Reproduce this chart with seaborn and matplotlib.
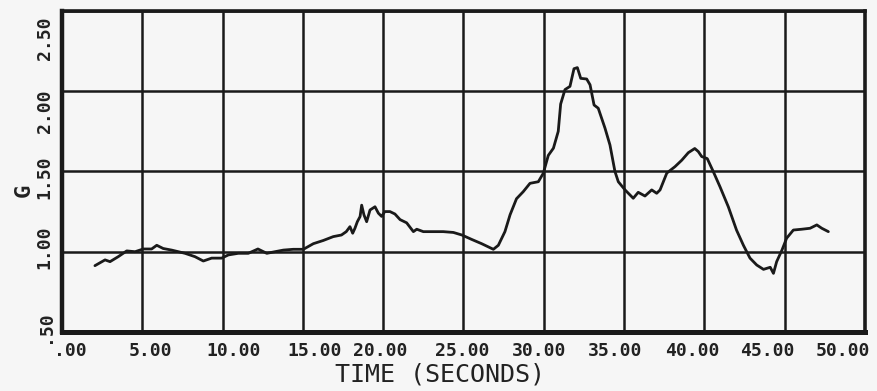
import pandas as pd
import numpy as np
import matplotlib
matplotlib.use('Agg')
import matplotlib.pyplot as plt
import matplotlib.transforms as mtransforms
import seaborn as sns

# values
time_s = [2.05, 2.68, 2.99, 3.5, 4.03, 4.55, 5.06, 5.58, 5.9, 6.3, 6.83, 7.66, 8.28, 8.8,
          9.32, 9.94, 10.36, 10.98, 11.6, 12.2, 12.75, 13.26, 13.78, 14.4, 15.03, 15.65,
          16.27, 16.89, 17.4, 17.7, 17.93, 18.1, 18.24, 18.39, 18.56, 18.66, 18.8, 18.97,
          19.18, 19.49, 19.7, 19.9, 20.1, 20.42, 20.73, 21.05, 21.46, 21.88, 22.09, 22.5,
          23.12, 23.74, 24.37, 24.9, 25.5, 26.13, 26.86, 27.17, 27.58, 27.9, 28.3, 28.72,
          29.14, 29.66, 29.97, 30.28, 30.6, 30.9, 31.05, 31.32, 31.63, 31.88, 32.09, 32.3,
          32.67, 32.88, 33.13, 33.39, 33.81, 34.12, 34.43, 34.64, 35.06, 35.57, 35.88,
          36.3, 36.72, 37.03, 37.24, 37.66, 38.17, 38.59, 39.0, 39.4, 39.62, 39.83, 40.18,
          40.55, 40.97, 41.49, 42.0, 42.43, 42.84, 43.26, 43.68, 44.1, 44.3, 44.5, 44.83,
          45.12, 45.54, 46.06, 46.58, 47.0, 47.31, 47.72]
g_load = [0.913, 0.949, 0.938, 0.969, 1.005, 1.0, 1.017, 1.017, 1.04, 1.02, 1.01, 0.99, 0.969,
          0.942, 0.96, 0.96, 0.98, 0.99, 0.99, 1.017, 0.99, 1.0, 1.01, 1.015, 1.015, 1.05,
          1.07, 1.094, 1.104, 1.125, 1.156, 1.115, 1.146, 1.187, 1.219, 1.29, 1.23, 1.187,
          1.26, 1.28, 1.24, 1.22, 1.25, 1.25, 1.235, 1.2, 1.18, 1.125, 1.14, 1.125,
          1.125, 1.125, 1.12, 1.104, 1.077, 1.05, 1.015, 1.04, 1.125, 1.23, 1.33, 1.374,
          1.426, 1.436, 1.489, 1.6, 1.645, 1.75, 1.92, 2.01, 2.03, 2.14, 2.147, 2.08,
          2.076, 2.04, 1.914, 1.894, 1.77, 1.665, 1.5, 1.436, 1.385, 1.333, 1.37,
          1.347, 1.385, 1.364, 1.385, 1.49, 1.53, 1.57, 1.617, 1.643, 1.624, 1.593, 1.58,
          1.5, 1.405, 1.28, 1.135, 1.04, 0.96, 0.917, 0.89, 0.903, 0.865, 0.938, 1.01,
          1.084, 1.135, 1.14, 1.146, 1.167, 1.146, 1.125]

x_ticks = [0, 5, 10, 15, 20, 25, 30, 35, 40, 45, 50]
x_labels = ['.00', '5.00', '10.00', '15.00', '20.00', '25.00', '30.00',
            '35.00', '40.00', '45.00', '50.00']
y_ticks = [0.5, 1.0, 1.5, 2.0, 2.5]
y_labels = ['.50', '1.00', '1.50', '2.00', '2.50']

df = pd.DataFrame({'time': time_s, 'g': g_load})

sns.set_style('white')
plt.rcParams['font.family'] = ['DejaVu Sans Mono', 'DejaVu Sans']

fig = plt.figure(figsize=(8.77, 3.91), dpi=100, facecolor='#f6f6f6')
ax = fig.add_axes([0.0707, 0.151, 0.9156, 0.821])
ax.set_facecolor('#f6f6f6')

sns.lineplot(data=df, x='time', y='g', ax=ax, color='#1a1a1a', linewidth=2.0)

ax.set_xlim(0, 50)
ax.set_ylim(0.5, 2.5)
ax.set_xticks(x_ticks)
ax.set_xticklabels(x_labels, fontsize=13, fontweight='bold', color='#222222')
ax.set_yticks(y_ticks)
ax.set_yticklabels(y_labels, fontsize=13, fontweight='bold', color='#222222',
                   rotation=90, va='center')
ax.tick_params(axis='x', length=0, pad=7)
ax.tick_params(axis='y', length=0, pad=6)
ax.grid(True, color='#1a1a1a', linewidth=1.8)
for side in ax.spines.values():
    side.set_visible(True)
    side.set_color('#1a1a1a')
    side.set_linewidth(2.6)
ax.spines['bottom'].set_linewidth(3.6)
ax.spines['left'].set_linewidth(3.2)

# the plotter's labels drift slightly off their grid lines
x_shift = [8, 8, 11, 12, -3, -1, -5, -9, -12, -17, -22]
y_shift = [-5, -4, 6, 20, 27]
for lab, dx in zip(ax.get_xticklabels(), x_shift):
    lab.set_transform(lab.get_transform() +
                      mtransforms.ScaledTranslation(dx / 100, 0, fig.dpi_scale_trans))
for lab, dy in zip(ax.get_yticklabels(), y_shift):
    lab.set_transform(lab.get_transform() +
                      mtransforms.ScaledTranslation(0, -dy / 100, fig.dpi_scale_trans))

ax.set_xlabel('TIME (SECONDS)', fontsize=18, color='#222222', va='center')
ax.xaxis.set_label_coords(0.471, -0.131)
ax.set_ylabel('G', fontsize=16, fontweight='bold', color='#222222', va='center')
ax.yaxis.set_label_coords(-0.048, 0.44)

fig.savefig('out.png', dpi=100, facecolor=fig.get_facecolor())
